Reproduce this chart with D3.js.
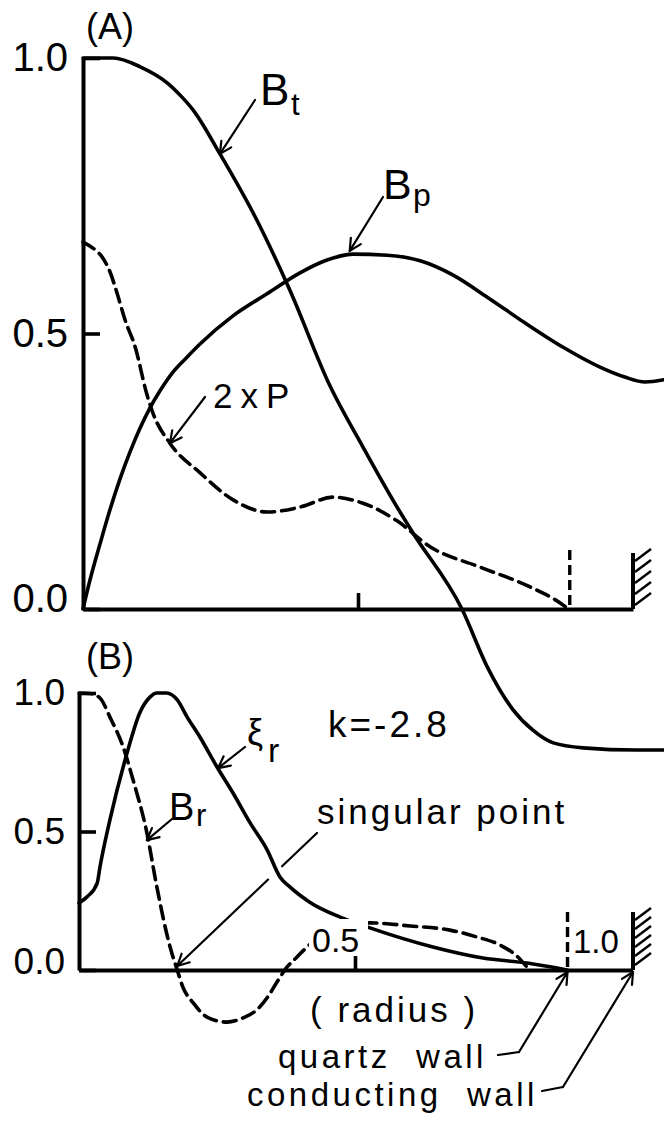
<!DOCTYPE html>
<html>
<head>
<meta charset="utf-8">
<script src="https://cdn.jsdelivr.net/npm/d3@7"></script>
<style>
  html, body { margin: 0; padding: 0; background: #fff; }
  svg { display: block; }
  text { font-family: "Liberation Sans", "DejaVu Sans", sans-serif; fill: #000; white-space: pre; }
</style>
</head>
<body>
<svg id="chart" width="664" height="1122"></svg>
<script>
// ---- Panel (A): equilibrium profiles against normalised radius ----
const radiusBt = [0, 0.055, 0.104, 0.153, 0.18, 0.2, 0.249, 0.316, 0.376, 0.449, 0.509, 0.571, 0.6, 0.689, 0.735, 0.782, 0.818, 0.855, 0.909, 1.007, 1.056];
const fieldBt  = [1.0, 1.0, 0.984, 0.955, 0.929, 0.906, 0.826, 0.706, 0.579, 0.405, 0.294, 0.185, 0.138, 0.0, -0.105, -0.183, -0.22, -0.243, -0.252, -0.256, -0.256];

const radiusBp = [0, 0.0127, 0.0309, 0.049, 0.0673, 0.0855, 0.1036, 0.1218, 0.14, 0.1636, 0.189, 0.2127, 0.2727, 0.3345, 0.3945, 0.44, 0.491, 0.553, 0.613, 0.673, 0.735, 0.804, 0.873, 0.94, 0.985, 1.022, 1.056];
const fieldBp  = [0, 0.0526, 0.118, 0.18, 0.236, 0.285, 0.328, 0.365, 0.396, 0.43, 0.457, 0.481, 0.532, 0.572, 0.61, 0.632, 0.644, 0.642, 0.632, 0.606, 0.566, 0.519, 0.475, 0.439, 0.421, 0.412, 0.416];

const radiusP  = [0, 0.018, 0.036, 0.049, 0.062, 0.076, 0.095, 0.116, 0.127, 0.158, 0.213, 0.273, 0.335, 0.395, 0.455, 0.509, 0.571, 0.631, 0.722, 0.813, 0.873, 0.882];
const twoP     = [0.666, 0.655, 0.637, 0.612, 0.573, 0.526, 0.475, 0.39, 0.356, 0.301, 0.247, 0.198, 0.176, 0.185, 0.203, 0.192, 0.16, 0.113, 0.076, 0.04, 0.007, 0];

// ---- Panel (B): eigenfunctions for k = -2.8 ----
const radiusXi = [0, 0.0145, 0.033, 0.038, 0.056, 0.087, 0.11, 0.129, 0.141, 0.159, 0.178, 0.196, 0.219, 0.25, 0.279, 0.31, 0.341, 0.364, 0.382, 0.418, 0.473, 0.527, 0.641, 0.732, 0.812, 0.884];
const xiR      = [0.242, 0.264, 0.314, 0.372, 0.542, 0.783, 0.928, 0.986, 1.0, 1.0, 0.975, 0.913, 0.841, 0.733, 0.639, 0.531, 0.433, 0.336, 0.30, 0.245, 0.191, 0.152, 0.083, 0.043, 0.025, 0];

const radiusBr = [0, 0.02, 0.038, 0.056, 0.08, 0.098, 0.123, 0.141, 0.165, 0.178, 0.188, 0.207, 0.232, 0.268, 0.297, 0.322, 0.342, 0.361, 0.377, 0.395, 0.413, 0.473, 0.527, 0.6, 0.672, 0.721, 0.763, 0.795, 0.81];
const fieldBr  = [1.0, 0.998, 0.982, 0.913, 0.805, 0.686, 0.495, 0.30, 0.083, 0, -0.061, -0.119, -0.17, -0.188, -0.173, -0.144, -0.097, -0.036, 0.011, 0.047, 0.083, 0.152, 0.17, 0.159, 0.144, 0.119, 0.09, 0.047, 0.014];

const yTicks = [0, 0.5, 1.0];
const xTicks = [0.5];
const quartzWall = 0.885;
const conductingWall = 1.0;
const singularPoint = 0.178;

// ---- scales ----
const xA = d3.scaleLinear().domain([0, 1]).range([83, 633]);
const yA = d3.scaleLinear().domain([0, 1]).range([609, 58]);
const xB = d3.scaleLinear().domain([0, 1]).range([79, 631]);
const yB = d3.scaleLinear().domain([0, 1]).range([970, 693]);

const svg = d3.select("#chart");
svg.append("rect").attr("width", 664).attr("height", 1122).attr("fill", "#fff");

const zip = (xs, ys) => xs.map((x, i) => [x, ys[i]]);
const lineA = d3.line().x(d => xA(d[0])).y(d => yA(d[1])).curve(d3.curveMonotoneX);
const lineB = d3.line().x(d => xB(d[0])).y(d => yB(d[1])).curve(d3.curveMonotoneX);

function curve(g, gen, pts, dashed) {
  g.append("path")
    .attr("d", gen(pts))
    .attr("fill", "none")
    .attr("stroke", "#000")
    .attr("stroke-width", 3.6)
    .attr("stroke-linecap", "round")
    .attr("stroke-linejoin", "round")
    .attr("stroke-dasharray", dashed ? "13,7" : null);
}

function arrow(g, x1, y1, x2, y2, head = 13) {
  const s = g.append("g").attr("stroke", "#000").attr("stroke-width", 2.2).attr("stroke-linecap", "round");
  s.append("line").attr("x1", x1).attr("y1", y1).attr("x2", x2).attr("y2", y2);
  const a = Math.atan2(y2 - y1, x2 - x1);
  [-1, 1].forEach(k => {
    const b = a + Math.PI + k * 0.47;
    s.append("line").attr("x1", x2).attr("y1", y2)
      .attr("x2", x2 + head * Math.cos(b)).attr("y2", y2 + head * Math.sin(b));
  });
}

function segment(g, pts, w = 2.2) {
  g.append("path").attr("d", d3.line()(pts)).attr("fill", "none")
    .attr("stroke", "#000").attr("stroke-width", w).attr("stroke-linecap", "round");
}

function hatch(g, x, yTop, yBot, step) {
  g.append("line").attr("x1", x).attr("x2", x).attr("y1", yTop).attr("y2", yBot)
    .attr("stroke", "#000").attr("stroke-width", 4);
  for (let y = yTop + 8; y <= yBot + 2; y += step) {
    g.append("line").attr("x1", x + 2).attr("y1", y).attr("x2", x + 18).attr("y2", y - 12)
      .attr("stroke", "#000").attr("stroke-width", 2.4);
  }
}

function dashedWall(g, x, yTop, yBot) {
  g.append("line").attr("x1", x).attr("x2", x).attr("y1", yTop).attr("y2", yBot)
    .attr("stroke", "#000").attr("stroke-width", 3.4).attr("stroke-dasharray", "10,5");
}

function text(g, x, y, str, size, opts = {}) {
  const t = g.append("text").attr("x", x).attr("y", y).attr("font-size", size).text(str);
  if (opts.anchor) t.attr("text-anchor", opts.anchor);
  if (opts.ls) t.attr("letter-spacing", opts.ls);
  return t;
}

function styleAxis(g, size) {
  g.selectAll("path.domain").attr("stroke", "#000").attr("stroke-width", 4).attr("fill", "none");
  g.selectAll(".tick line").attr("stroke", "#000").attr("stroke-width", 3.6);
  g.selectAll(".tick text")
    .attr("font-size", size)
    .attr("font-family", "Liberation Sans, DejaVu Sans, sans-serif")
    .attr("fill", "#000");
  g.attr("font-family", null).attr("font-size", null);
}

// ================= Panel (A) =================
const gA = svg.append("g");

curve(gA, lineA, zip(radiusBp, fieldBp), false);
curve(gA, lineA, zip(radiusP, twoP), true);
curve(gA, lineA, zip(radiusBt, fieldBt), false);

const axAx = gA.append("g").attr("transform", `translate(0,${yA(0)})`)
  .call(d3.axisBottom(xA).tickValues(xTicks).tickSize(-16).tickSizeOuter(0).tickFormat(""));
styleAxis(axAx, 0);
const axAy = gA.append("g").attr("transform", `translate(${xA(0)},0)`)
  .call(d3.axisLeft(yA).tickValues(yTicks).tickSize(-17).tickSizeOuter(0).tickPadding(15).tickFormat(d3.format(".1f")));
styleAxis(axAy, 40);
axAy.selectAll(".tick text").filter(d => d === 0).attr("dy", "0.05em");

dashedWall(gA, xA(quartzWall), yA(0) - 59, yA(0));
hatch(gA, xA(conductingWall), yA(0) - 56, yA(0), 11);

text(gA, 86, 39, "(A)", 36);

// B_t label
text(gA, 260, 105, "B", 44);
text(gA, 291, 115, "t", 31);
arrow(gA, 255, 100, xA(0.249), yA(0.826));

// B_p label
text(gA, 383, 199, "B", 43);
text(gA, 413, 206, "p", 32);
arrow(gA, 383, 197, xA(0.485), yA(0.65));

// 2xP label
text(gA, 213, 408, "2xP", 35, { ls: 8 });
arrow(gA, 205, 397, xA(0.158), yA(0.301));

// ================= Panel (B) =================
const gB = svg.append("g");

curve(gB, lineB, zip(radiusXi, xiR), false);
curve(gB, lineB, zip(radiusBr, fieldBr), true);

// white patch behind the 0.5 label breaks both curves
gB.append("rect").attr("x", 309).attr("y", 919).attr("width", 59).attr("height", 38).attr("fill", "#fff");
text(gB, 312, 952, "0.5", 34);
text(gB, 573, 953, "1.0", 33);

const axBx = gB.append("g").attr("transform", `translate(0,${yB(0)})`)
  .call(d3.axisBottom(xB).tickValues(xTicks).tickSize(-14).tickSizeOuter(0).tickFormat(""));
styleAxis(axBx, 0);
// extend the baseline out to the conducting wall
gB.append("line").attr("x1", xB(1)).attr("x2", xA(conductingWall)).attr("y1", yB(0)).attr("y2", yB(0))
  .attr("stroke", "#000").attr("stroke-width", 4);
const axBy = gB.append("g").attr("transform", `translate(${xB(0)},0)`)
  .call(d3.axisLeft(yB).tickValues(yTicks).tickSize(-17).tickSizeOuter(0).tickPadding(14).tickFormat(d3.format(".1f")));
styleAxis(axBy, 37);
axBy.selectAll(".tick text").filter(d => d === 0).attr("dy", "0.1em");

dashedWall(gB, xB(quartzWall), yB(0) - 58, yB(0));
hatch(gB, xA(conductingWall), yB(0) - 58, yB(0), 9);

text(gB, 86, 669, "(B)", 36);
text(gB, 328, 737, "k=-2.8", 37, { ls: 3 });

// xi_r label
text(gB, 247, 745, "ξ", 36);
text(gB, 268, 762, "r", 34);
arrow(gB, 245, 747, xB(0.252), yB(0.729));

// B_r label
text(gB, 169, 820, "B", 38);
text(gB, 196, 826, "r", 31);
arrow(gB, 172, 819, xB(0.123), yB(0.469));

// singular point label with leader broken where it crosses xi_r
text(gB, 317, 824, "singular point", 35, { ls: 3 });
{
  const p0 = [317, 833], p1 = [xB(singularPoint), yB(0) - 4];
  const at = t => [p0[0] + (p1[0] - p0[0]) * t, p0[1] + (p1[1] - p0[1]) * t];
  segment(gB, [p0, at(0.25)]);
  const s = at(0.35);
  arrow(gB, s[0], s[1], p1[0], p1[1]);
}

text(gB, 310, 1022, "( radius )", 35, { ls: 3 });
text(gB, 278, 1068, "quartz  wall", 33, { ls: 3.5 });
text(gB, 247, 1106, "conducting  wall", 33, { ls: 3.5 });

segment(gB, [[498, 1055], [519, 1052]]);
arrow(gB, 519, 1052, xB(quartzWall), yB(0) + 2);
segment(gB, [[542, 1091], [563, 1087]]);
arrow(gB, 563, 1087, xA(conductingWall), yB(0) + 2);
</script>
</body>
</html>
